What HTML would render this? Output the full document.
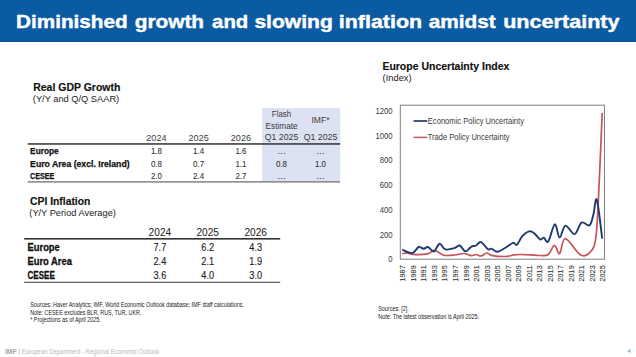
<!DOCTYPE html>
<html><head><meta charset="utf-8"><style>
html,body{margin:0;padding:0;background:#fff;width:636px;height:357px;overflow:hidden}
svg{display:block;font-family:"Liberation Sans",sans-serif}
</style></head><body>
<svg width="636" height="357" viewBox="0 0 636 357">
<rect x="0" y="0" width="636" height="42" fill="#0b5ba3"/>
<rect x="0" y="40.8" width="636" height="1.2" fill="#0a5190"/>
<text x="16.1" y="27.6" font-size="17.8" font-weight="bold" fill="#fff" stroke="#fff" stroke-width="0.4" textLength="111.44" lengthAdjust="spacingAndGlyphs">Diminished</text>
<text x="134.7" y="27.6" font-size="17.8" font-weight="bold" fill="#fff" stroke="#fff" stroke-width="0.4" textLength="69.37" lengthAdjust="spacingAndGlyphs">growth</text>
<text x="212.1" y="27.6" font-size="17.8" font-weight="bold" fill="#fff" stroke="#fff" stroke-width="0.4" textLength="36.12" lengthAdjust="spacingAndGlyphs">and</text>
<text x="254.4" y="27.6" font-size="17.8" font-weight="bold" fill="#fff" stroke="#fff" stroke-width="0.4" textLength="78.39" lengthAdjust="spacingAndGlyphs">slowing</text>
<text x="338.8" y="27.6" font-size="17.8" font-weight="bold" fill="#fff" stroke="#fff" stroke-width="0.4" textLength="83.34" lengthAdjust="spacingAndGlyphs">inflation</text>
<text x="428.7" y="27.6" font-size="17.8" font-weight="bold" fill="#fff" stroke="#fff" stroke-width="0.4" textLength="67.11" lengthAdjust="spacingAndGlyphs">amidst</text>
<text x="503.2" y="27.6" font-size="17.8" font-weight="bold" fill="#fff" stroke="#fff" stroke-width="0.4" textLength="116.34" lengthAdjust="spacingAndGlyphs">uncertainty</text>
<rect x="262.1" y="108.1" width="78.1" height="73.4" fill="#dde2f2"/>
<text x="33.2" y="91.4" font-size="10.2" font-weight="bold" fill="#111" stroke="#111" stroke-width="0.15" textLength="87.2" lengthAdjust="spacingAndGlyphs">Real GDP Growth</text>
<text x="32.8" y="101.8" font-size="9.1" fill="#222" textLength="86.4" lengthAdjust="spacingAndGlyphs">(Y/Y and Q/Q SAAR)</text>
<text x="156.4" y="140.9" font-size="9.5" fill="#3a3a3a" text-anchor="middle" textLength="20.3" lengthAdjust="spacingAndGlyphs">2024</text>
<text x="198.6" y="140.9" font-size="9.5" fill="#3a3a3a" text-anchor="middle" textLength="20.3" lengthAdjust="spacingAndGlyphs">2025</text>
<text x="240.9" y="140.9" font-size="9.5" fill="#3a3a3a" text-anchor="middle" textLength="20.3" lengthAdjust="spacingAndGlyphs">2026</text>
<text x="281.5" y="116.7" font-size="9.2" fill="#3a3a3a" text-anchor="middle" textLength="19.3" lengthAdjust="spacingAndGlyphs">Flash</text>
<text x="281.6" y="129.0" font-size="9.2" fill="#3a3a3a" text-anchor="middle" textLength="32.2" lengthAdjust="spacingAndGlyphs">Estimate</text>
<text x="281.5" y="140.4" font-size="9.2" fill="#3a3a3a" text-anchor="middle" textLength="33.6" lengthAdjust="spacingAndGlyphs">Q1 2025</text>
<text x="320.5" y="122.6" font-size="9.2" fill="#3a3a3a" text-anchor="middle" textLength="18" lengthAdjust="spacingAndGlyphs">IMF*</text>
<text x="320.5" y="140.4" font-size="9.2" fill="#3a3a3a" text-anchor="middle" textLength="33.6" lengthAdjust="spacingAndGlyphs">Q1 2025</text>
<rect x="27.7" y="143.2" width="312.5" height="1.5" fill="#333"/>
<rect x="27.7" y="181.3" width="312.5" height="1.2" fill="#666"/>
<text x="30.1" y="153.8" font-size="8.8" font-weight="bold" fill="#111" stroke="#111" stroke-width="0.25" textLength="28.6" lengthAdjust="spacingAndGlyphs">Europe</text>
<text x="156.4" y="153.8" font-size="9.6" fill="#333" stroke="#333" stroke-width="0.1" text-anchor="middle" textLength="11.0" lengthAdjust="spacingAndGlyphs">1.8</text>
<text x="198.6" y="153.8" font-size="9.6" fill="#333" stroke="#333" stroke-width="0.1" text-anchor="middle" textLength="11.0" lengthAdjust="spacingAndGlyphs">1.4</text>
<text x="240.9" y="153.8" font-size="9.6" fill="#333" stroke="#333" stroke-width="0.1" text-anchor="middle" textLength="11.0" lengthAdjust="spacingAndGlyphs">1.6</text>
<text x="281.5" y="153.5" font-size="8.5" fill="#333" text-anchor="middle" textLength="8.5" lengthAdjust="spacingAndGlyphs">...</text>
<text x="320.5" y="153.5" font-size="8.5" fill="#333" text-anchor="middle" textLength="8.5" lengthAdjust="spacingAndGlyphs">...</text>
<text x="30.1" y="166.6" font-size="8.8" font-weight="bold" fill="#111" stroke="#111" stroke-width="0.25" textLength="99.5" lengthAdjust="spacingAndGlyphs">Euro Area (excl. Ireland)</text>
<text x="156.4" y="166.6" font-size="9.6" fill="#333" stroke="#333" stroke-width="0.1" text-anchor="middle" textLength="11.0" lengthAdjust="spacingAndGlyphs">0.8</text>
<text x="198.6" y="166.6" font-size="9.6" fill="#333" stroke="#333" stroke-width="0.1" text-anchor="middle" textLength="11.0" lengthAdjust="spacingAndGlyphs">0.7</text>
<text x="240.9" y="166.6" font-size="9.6" fill="#333" stroke="#333" stroke-width="0.1" text-anchor="middle" textLength="11.0" lengthAdjust="spacingAndGlyphs">1.1</text>
<text x="281.5" y="166.6" font-size="9.6" fill="#333" stroke="#333" stroke-width="0.1" text-anchor="middle" textLength="11.0" lengthAdjust="spacingAndGlyphs">0.8</text>
<text x="320.5" y="166.6" font-size="9.6" fill="#333" stroke="#333" stroke-width="0.1" text-anchor="middle" textLength="11.0" lengthAdjust="spacingAndGlyphs">1.0</text>
<text x="30.1" y="178.9" font-size="8.8" font-weight="bold" fill="#111" stroke="#111" stroke-width="0.25" textLength="24.2" lengthAdjust="spacingAndGlyphs">CESEE</text>
<text x="156.4" y="178.9" font-size="9.6" fill="#333" stroke="#333" stroke-width="0.1" text-anchor="middle" textLength="11.0" lengthAdjust="spacingAndGlyphs">2.0</text>
<text x="198.6" y="178.9" font-size="9.6" fill="#333" stroke="#333" stroke-width="0.1" text-anchor="middle" textLength="11.0" lengthAdjust="spacingAndGlyphs">2.4</text>
<text x="240.9" y="178.9" font-size="9.6" fill="#333" stroke="#333" stroke-width="0.1" text-anchor="middle" textLength="11.0" lengthAdjust="spacingAndGlyphs">2.7</text>
<text x="281.5" y="178.6" font-size="8.5" fill="#333" text-anchor="middle" textLength="8.5" lengthAdjust="spacingAndGlyphs">...</text>
<text x="320.5" y="178.6" font-size="8.5" fill="#333" text-anchor="middle" textLength="8.5" lengthAdjust="spacingAndGlyphs">...</text>
<text x="30.0" y="204.6" font-size="10.0" font-weight="bold" fill="#111" stroke="#111" stroke-width="0.15" textLength="60.4" lengthAdjust="spacingAndGlyphs">CPI Inflation</text>
<text x="29.3" y="215.7" font-size="8.8" fill="#222" textLength="86.6" lengthAdjust="spacingAndGlyphs">(Y/Y Period Average)</text>
<text x="159.9" y="236.4" font-size="10.6" fill="#222" text-anchor="middle" textLength="22.6" lengthAdjust="spacingAndGlyphs">2024</text>
<text x="207.7" y="236.4" font-size="10.6" fill="#222" text-anchor="middle" textLength="22.6" lengthAdjust="spacingAndGlyphs">2025</text>
<text x="255.7" y="236.4" font-size="10.6" fill="#222" text-anchor="middle" textLength="22.6" lengthAdjust="spacingAndGlyphs">2026</text>
<rect x="24.2" y="238.0" width="256" height="1.6" fill="#333"/>
<rect x="24.2" y="281.7" width="256" height="1.3" fill="#666"/>
<text x="27.5" y="251.1" font-size="10.0" font-weight="bold" fill="#111" stroke="#111" stroke-width="0.3" textLength="32.3" lengthAdjust="spacingAndGlyphs">Europe</text>
<text x="159.9" y="250.79999999999998" font-size="10.6" fill="#222" stroke="#222" stroke-width="0.12" text-anchor="middle" textLength="12.8" lengthAdjust="spacingAndGlyphs">7.7</text>
<text x="207.7" y="250.79999999999998" font-size="10.6" fill="#222" stroke="#222" stroke-width="0.12" text-anchor="middle" textLength="12.8" lengthAdjust="spacingAndGlyphs">6.2</text>
<text x="255.7" y="250.79999999999998" font-size="10.6" fill="#222" stroke="#222" stroke-width="0.12" text-anchor="middle" textLength="12.8" lengthAdjust="spacingAndGlyphs">4.3</text>
<text x="27.5" y="265.0" font-size="10.0" font-weight="bold" fill="#111" stroke="#111" stroke-width="0.3" textLength="44.4" lengthAdjust="spacingAndGlyphs">Euro Area</text>
<text x="159.9" y="264.7" font-size="10.6" fill="#222" stroke="#222" stroke-width="0.12" text-anchor="middle" textLength="12.8" lengthAdjust="spacingAndGlyphs">2.4</text>
<text x="207.7" y="264.7" font-size="10.6" fill="#222" stroke="#222" stroke-width="0.12" text-anchor="middle" textLength="12.8" lengthAdjust="spacingAndGlyphs">2.1</text>
<text x="255.7" y="264.7" font-size="10.6" fill="#222" stroke="#222" stroke-width="0.12" text-anchor="middle" textLength="12.8" lengthAdjust="spacingAndGlyphs">1.9</text>
<text x="27.5" y="279.3" font-size="10.0" font-weight="bold" fill="#111" stroke="#111" stroke-width="0.3" textLength="27.3" lengthAdjust="spacingAndGlyphs">CESEE</text>
<text x="159.9" y="279.0" font-size="10.6" fill="#222" stroke="#222" stroke-width="0.12" text-anchor="middle" textLength="12.8" lengthAdjust="spacingAndGlyphs">3.6</text>
<text x="207.7" y="279.0" font-size="10.6" fill="#222" stroke="#222" stroke-width="0.12" text-anchor="middle" textLength="12.8" lengthAdjust="spacingAndGlyphs">4.0</text>
<text x="255.7" y="279.0" font-size="10.6" fill="#222" stroke="#222" stroke-width="0.12" text-anchor="middle" textLength="12.8" lengthAdjust="spacingAndGlyphs">3.0</text>
<text x="30.2" y="306.7" font-size="7.3" fill="#222" textLength="213.7" lengthAdjust="spacingAndGlyphs">Sources: Haver Analytics; IMF, World Economic Outlook database; IMF staff calculations.</text>
<text x="30.2" y="314.7" font-size="7.3" fill="#222" textLength="111.2" lengthAdjust="spacingAndGlyphs">Note: CESEE excludes BLR, RUS, TUR, UKR.</text>
<text x="30.2" y="322.0" font-size="7.3" fill="#222" textLength="70.6" lengthAdjust="spacingAndGlyphs">* Projections as of April 2025.</text>
<text x="382.4" y="70.0" font-size="10.8" font-weight="bold" fill="#111" stroke="#111" stroke-width="0.15" textLength="127" lengthAdjust="spacingAndGlyphs">Europe Uncertainty Index</text>
<text x="382.6" y="80.6" font-size="9.4" fill="#222" textLength="29.0" lengthAdjust="spacingAndGlyphs">(Index)</text>
<rect x="400.3" y="105.2" width="204.2" height="154" fill="#fff" stroke="#7f7f7f" stroke-width="1"/>
<text x="392.6" y="262.20000000000005" font-size="9.0" fill="#3a3a3a" text-anchor="end" textLength="4.3" lengthAdjust="spacingAndGlyphs">0</text>
<text x="392.6" y="237.50000000000003" font-size="9.0" fill="#3a3a3a" text-anchor="end" textLength="12.9" lengthAdjust="spacingAndGlyphs">200</text>
<text x="392.6" y="212.8" font-size="9.0" fill="#3a3a3a" text-anchor="end" textLength="12.9" lengthAdjust="spacingAndGlyphs">400</text>
<text x="392.6" y="188.10000000000002" font-size="9.0" fill="#3a3a3a" text-anchor="end" textLength="12.9" lengthAdjust="spacingAndGlyphs">600</text>
<text x="392.6" y="163.4" font-size="9.0" fill="#3a3a3a" text-anchor="end" textLength="12.9" lengthAdjust="spacingAndGlyphs">800</text>
<text x="392.6" y="138.70000000000002" font-size="9.0" fill="#3a3a3a" text-anchor="end" textLength="17.2" lengthAdjust="spacingAndGlyphs">1000</text>
<text x="392.6" y="114.00000000000003" font-size="9.0" fill="#3a3a3a" text-anchor="end" textLength="17.2" lengthAdjust="spacingAndGlyphs">1200</text>
<text transform="translate(405.3,281.5) rotate(-90)" font-size="7.8" fill="#3a3a3a" stroke="#3a3a3a" stroke-width="0.12" textLength="16.2" lengthAdjust="spacingAndGlyphs">1987</text>
<text transform="translate(415.8,281.5) rotate(-90)" font-size="7.8" fill="#3a3a3a" stroke="#3a3a3a" stroke-width="0.12" textLength="16.2" lengthAdjust="spacingAndGlyphs">1989</text>
<text transform="translate(426.4,281.5) rotate(-90)" font-size="7.8" fill="#3a3a3a" stroke="#3a3a3a" stroke-width="0.12" textLength="16.2" lengthAdjust="spacingAndGlyphs">1991</text>
<text transform="translate(436.9,281.5) rotate(-90)" font-size="7.8" fill="#3a3a3a" stroke="#3a3a3a" stroke-width="0.12" textLength="16.2" lengthAdjust="spacingAndGlyphs">1993</text>
<text transform="translate(447.4,281.5) rotate(-90)" font-size="7.8" fill="#3a3a3a" stroke="#3a3a3a" stroke-width="0.12" textLength="16.2" lengthAdjust="spacingAndGlyphs">1995</text>
<text transform="translate(458.0,281.5) rotate(-90)" font-size="7.8" fill="#3a3a3a" stroke="#3a3a3a" stroke-width="0.12" textLength="16.2" lengthAdjust="spacingAndGlyphs">1997</text>
<text transform="translate(468.5,281.5) rotate(-90)" font-size="7.8" fill="#3a3a3a" stroke="#3a3a3a" stroke-width="0.12" textLength="16.2" lengthAdjust="spacingAndGlyphs">1999</text>
<text transform="translate(479.0,281.5) rotate(-90)" font-size="7.8" fill="#3a3a3a" stroke="#3a3a3a" stroke-width="0.12" textLength="16.2" lengthAdjust="spacingAndGlyphs">2001</text>
<text transform="translate(489.6,281.5) rotate(-90)" font-size="7.8" fill="#3a3a3a" stroke="#3a3a3a" stroke-width="0.12" textLength="16.2" lengthAdjust="spacingAndGlyphs">2003</text>
<text transform="translate(500.1,281.5) rotate(-90)" font-size="7.8" fill="#3a3a3a" stroke="#3a3a3a" stroke-width="0.12" textLength="16.2" lengthAdjust="spacingAndGlyphs">2005</text>
<text transform="translate(510.6,281.5) rotate(-90)" font-size="7.8" fill="#3a3a3a" stroke="#3a3a3a" stroke-width="0.12" textLength="16.2" lengthAdjust="spacingAndGlyphs">2007</text>
<text transform="translate(521.2,281.5) rotate(-90)" font-size="7.8" fill="#3a3a3a" stroke="#3a3a3a" stroke-width="0.12" textLength="16.2" lengthAdjust="spacingAndGlyphs">2009</text>
<text transform="translate(531.7,281.5) rotate(-90)" font-size="7.8" fill="#3a3a3a" stroke="#3a3a3a" stroke-width="0.12" textLength="16.2" lengthAdjust="spacingAndGlyphs">2011</text>
<text transform="translate(542.2,281.5) rotate(-90)" font-size="7.8" fill="#3a3a3a" stroke="#3a3a3a" stroke-width="0.12" textLength="16.2" lengthAdjust="spacingAndGlyphs">2013</text>
<text transform="translate(552.7,281.5) rotate(-90)" font-size="7.8" fill="#3a3a3a" stroke="#3a3a3a" stroke-width="0.12" textLength="16.2" lengthAdjust="spacingAndGlyphs">2015</text>
<text transform="translate(563.3,281.5) rotate(-90)" font-size="7.8" fill="#3a3a3a" stroke="#3a3a3a" stroke-width="0.12" textLength="16.2" lengthAdjust="spacingAndGlyphs">2017</text>
<text transform="translate(573.8,281.5) rotate(-90)" font-size="7.8" fill="#3a3a3a" stroke="#3a3a3a" stroke-width="0.12" textLength="16.2" lengthAdjust="spacingAndGlyphs">2019</text>
<text transform="translate(584.3,281.5) rotate(-90)" font-size="7.8" fill="#3a3a3a" stroke="#3a3a3a" stroke-width="0.12" textLength="16.2" lengthAdjust="spacingAndGlyphs">2021</text>
<text transform="translate(594.9,281.5) rotate(-90)" font-size="7.8" fill="#3a3a3a" stroke="#3a3a3a" stroke-width="0.12" textLength="16.2" lengthAdjust="spacingAndGlyphs">2023</text>
<text transform="translate(605.4,281.5) rotate(-90)" font-size="7.8" fill="#3a3a3a" stroke="#3a3a3a" stroke-width="0.12" textLength="16.2" lengthAdjust="spacingAndGlyphs">2025</text>
<line x1="413.5" y1="121" x2="427.3" y2="121" stroke="#1f3a70" stroke-width="1.7"/>
<text x="427.8" y="123.9" font-size="8.6" fill="#3a3a3a" textLength="96.2" lengthAdjust="spacingAndGlyphs">Economic Policy Uncertainty</text>
<line x1="413.5" y1="137.4" x2="427.3" y2="137.4" stroke="#c4555a" stroke-width="1.5"/>
<text x="427.8" y="140.0" font-size="8.6" fill="#3a3a3a" textLength="81.7" lengthAdjust="spacingAndGlyphs">Trade Policy Uncertainty</text>
<path d="M402.3,253.8 C403.1,253.7 405.2,252.8 407.0,252.9 C408.8,253.0 409.8,254.2 413.2,254.4 C416.6,254.6 424.2,254.5 427.6,253.8 C431.1,253.1 432.2,250.7 433.9,250.4 C435.6,250.1 436.3,251.2 438.0,252.0 C439.7,252.8 441.5,254.8 444.3,255.3 C447.1,255.8 451.4,255.3 454.7,255.0 C458.0,254.7 461.2,253.4 464.0,253.5 C466.8,253.6 469.2,255.4 471.2,255.6 C473.2,255.8 474.4,254.4 476.0,254.5 C477.6,254.6 479.2,256.2 481.0,256.0 C482.8,255.8 485.3,253.1 487.0,253.0 C488.7,252.9 488.3,254.7 491.4,255.3 C494.4,255.9 501.5,256.6 505.3,256.5 C509.1,256.4 511.6,255.1 514.0,254.8 C516.5,254.5 517.3,254.5 520.0,254.5 C522.7,254.5 526.8,254.7 530.2,254.9 C533.6,255.1 537.2,255.6 540.2,255.5 C543.2,255.4 545.9,256.2 548.3,254.5 C550.7,252.8 552.5,245.6 554.4,245.4 C556.3,245.2 557.8,254.7 559.6,253.6 C561.4,252.5 562.0,238.5 565.4,238.7 C568.8,238.9 576.2,252.5 580.3,254.8 C584.4,257.1 587.4,255.4 590.0,252.3 C592.6,249.2 594.5,248.5 596.0,236.4 C597.5,224.3 598.3,200.6 599.3,180.0 C600.3,159.4 601.7,124.1 602.2,112.9" fill="none" stroke="#c4555a" stroke-width="1.7" stroke-linejoin="round"/>
<path d="M402.3,249.7 C404.0,250.3 409.6,253.5 412.3,253.1 C415.0,252.7 416.7,247.7 418.6,247.0 C420.5,246.3 422.0,248.8 423.6,248.8 C425.2,248.8 426.3,246.6 428.0,247.0 C429.7,247.4 432.0,252.1 433.9,251.5 C435.8,250.9 437.7,244.0 439.6,243.7 C441.5,243.3 442.8,248.7 445.3,249.4 C447.8,250.1 452.3,248.7 454.7,248.0 C457.1,247.3 458.0,244.9 459.8,245.5 C461.6,246.1 463.6,251.2 465.5,251.4 C467.4,251.6 469.4,247.8 471.2,246.8 C472.9,245.8 474.4,246.3 476.0,245.5 C477.6,244.7 479.0,241.5 481.0,242.1 C483.0,242.7 486.2,248.1 487.9,249.2 C489.6,250.3 489.8,248.3 491.4,248.7 C493.0,249.1 495.2,251.8 497.5,251.7 C499.8,251.5 502.7,249.3 505.3,247.8 C507.9,246.3 511.1,243.3 513.0,242.8 C515.0,242.3 515.5,245.9 517.0,244.8 C518.5,243.7 520.1,238.7 522.1,236.4 C524.1,234.2 527.2,231.8 529.2,231.3 C531.2,230.8 532.4,232.0 534.2,233.3 C536.0,234.7 538.6,238.7 540.2,239.4 C541.8,240.2 542.5,237.5 543.9,237.8 C545.2,238.1 546.5,243.7 548.3,241.4 C550.1,239.2 552.9,225.0 554.8,224.3 C556.7,223.7 557.8,237.3 559.6,237.5 C561.4,237.7 562.9,226.2 565.4,225.6 C567.9,225.0 571.9,234.6 574.6,234.1 C577.3,233.6 579.0,224.1 581.5,222.6 C584.0,221.1 587.5,226.7 589.5,225.3 C591.5,224.0 592.2,218.8 593.4,214.5 C594.6,210.2 595.4,195.8 596.9,199.8 C598.4,203.8 601.3,232.2 602.2,238.7" fill="none" stroke="#1f3a70" stroke-width="1.9" stroke-linejoin="round"/>
<text x="378.2" y="311.2" font-size="7.3" fill="#222" textLength="30.5" lengthAdjust="spacingAndGlyphs">Sources: [2].</text>
<text x="378.2" y="319.2" font-size="7.3" fill="#222" textLength="100.9" lengthAdjust="spacingAndGlyphs">Note: The latest observation is April 2025.</text>
<text x="5.0" y="353.7" font-size="6.3" font-weight="bold" fill="#a6a6a6" textLength="11.54" lengthAdjust="spacingAndGlyphs">IMF</text>
<rect x="18.9" y="348.7" width="0.8" height="5.8" fill="#c4c4c4"/>
<text x="21.7" y="353.7" font-size="6.3" fill="#bababa" textLength="137.47" lengthAdjust="spacingAndGlyphs">European Department - Regional Economic Outlook</text>
<text x="627.5" y="353.2" font-size="6" fill="#4a9ad0">4</text>
</svg>
</body></html>
